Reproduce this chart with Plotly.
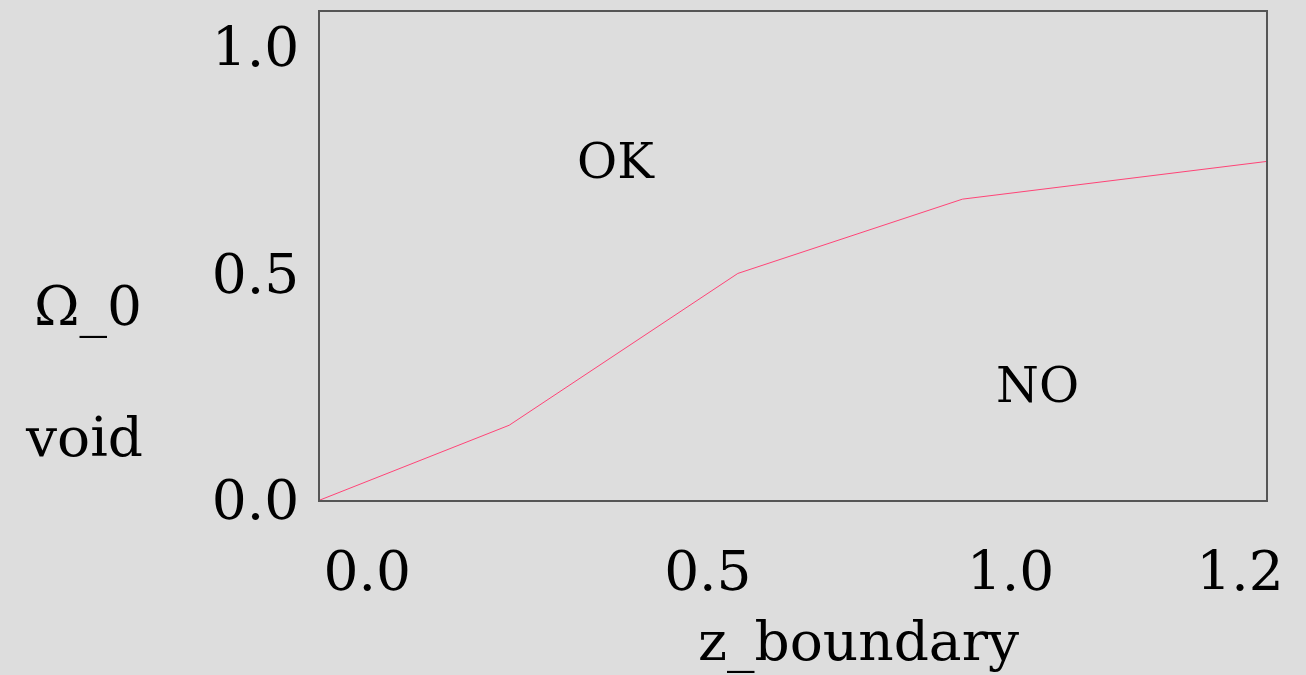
import plotly.graph_objects as go

# data
z_boundary = [0.0, 0.24, 0.53, 0.815, 1.2]
omega_void = [0.0, 0.165, 0.5, 0.664, 0.747]
x_tick_text = ["0.0", "0.5", "1.0", "1.2"]
y_tick_vals = [0.0, 0.5, 1.0]
y_tick_text = ["0.0", "0.5", "1.0"]
region_labels = ["OK", "NO"]

FONT = "DejaVu Serif, Liberation Serif, serif"
BG = "#dddddd"
FS = 55

fig = go.Figure()
fig.add_trace(go.Scatter(
    x=z_boundary, y=omega_void, mode="lines",
    line=dict(color="#ff4477", width=1), showlegend=False,
))

# label placement (layout only)
x_tick_pos = [0.06, 0.492, 0.876, 1.167]

fig.update_layout(
    width=1306, height=675,
    margin=dict(l=320, r=40, t=10, b=175),
    paper_bgcolor=BG, plot_bgcolor=BG,
    font=dict(family=FONT, color="black", size=FS),
    xaxis=dict(
        range=[0, 1.2], showgrid=False, zeroline=False,
        showline=True, linecolor="#555555", linewidth=1.5, mirror=True,
        tickvals=x_tick_pos, ticktext=x_tick_text, ticks="",
        tickfont=dict(size=FS, family=FONT), ticklabelstandoff=22,
    ),
    yaxis=dict(
        range=[0, 1.077], showgrid=False, zeroline=False,
        showline=True, linecolor="#555555", linewidth=1.5, mirror=True,
        tickvals=y_tick_vals, ticktext=y_tick_text, ticks="",
        tickfont=dict(size=FS, family=FONT), ticklabelstandoff=8,
    ),
    annotations=[
        dict(text=region_labels[0], x=0.375, y=0.746, xref="x", yref="y",
             showarrow=False, font=dict(size=FS - 6, family=FONT)),
        dict(text=region_labels[1], x=0.91, y=0.252, xref="x", yref="y",
             showarrow=False, font=dict(size=FS - 6, family=FONT)),
        dict(text="Ω_0", xref="paper", yref="paper",
             x=(88 - 320) / 946, y=(500 - 305) / 490, xanchor="center", yanchor="middle",
             showarrow=False, font=dict(size=FS, family=FONT)),
        dict(text="void", xref="paper", yref="paper",
             x=(84 - 320) / 946, y=(500 - 437) / 490, xanchor="center", yanchor="middle",
             showarrow=False, font=dict(size=FS, family=FONT)),
        dict(text="z_boundary", xref="paper", yref="paper",
             x=(858 - 320) / 946, y=(500 - 676) / 490, xanchor="center", yanchor="bottom",
             showarrow=False, font=dict(size=FS, family=FONT)),
    ],
)

fig.write_html(
    "out.html",
    config={"displayModeBar": False},
    post_script="document.body.style.margin='0px';document.body.style.background='#dddddd';",
)
